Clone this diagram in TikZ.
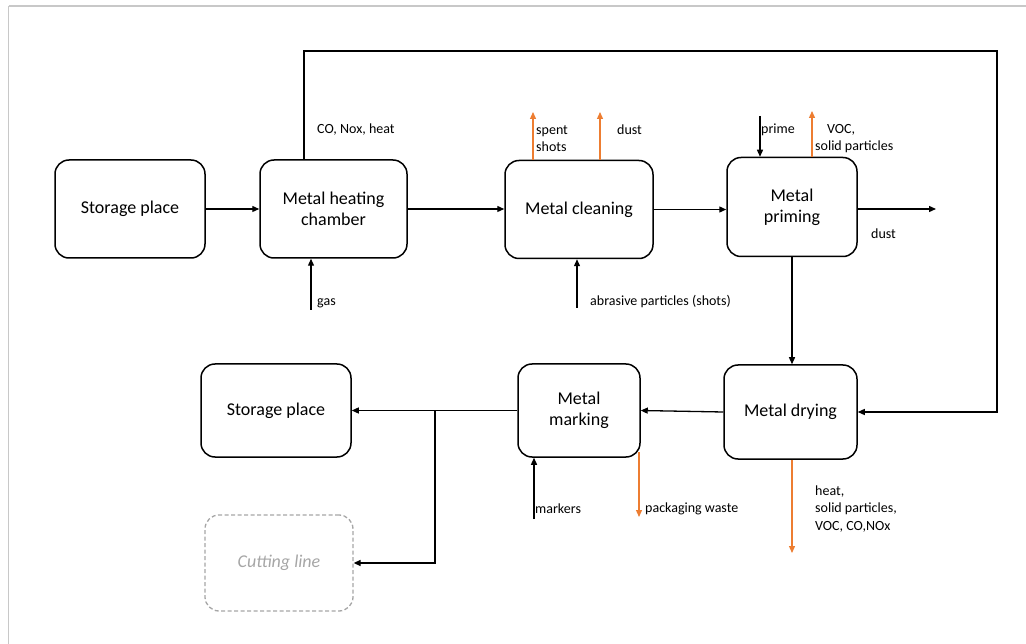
\documentclass[tikz,border=0pt]{standalone}
\usepackage{fontspec}
\setmainfont{Carlito}
\usetikzlibrary{arrows.meta}

\definecolor{outorange}{HTML}{ED7D31}
\definecolor{framegray}{HTML}{C8C8C8}
\definecolor{ghost}{HTML}{A6A6A6}

\tikzset{
  stepbox/.style={draw, line width=1.5pt, rounded corners=14pt, align=center,
    font=\fontsize{18}{21}\selectfont, inner sep=2pt},
  ghostbox/.style={draw=ghost, dash pattern=on 4pt off 2.5pt, line width=1.3pt, rounded corners=14pt,
    text=ghost, font=\fontsize{18}{21}\selectfont\itshape},
  flow/.style={line width=1.3pt, -{Triangle[length=7pt,width=6pt]}},
  waste/.style={flow, draw=outorange, fill=outorange},
  lbl/.style={font=\fontsize{14}{17.5}\selectfont, inner sep=1pt, align=left}
}

\begin{document}
\begin{tikzpicture}[x=1pt, y=-1pt]
\useasboundingbox (0,0) rectangle (1026,644);

% page frame
\draw[framegray, line width=1.5pt] (8.5,6) -- (1026,6);
\draw[framegray, line width=1.5pt] (8.5,6) -- (8.5,644);

% process steps
\node[stepbox, minimum width=150pt, minimum height=98pt] (st1) at (130,209) {Storage place};
\node[stepbox, minimum width=147pt, minimum height=98pt] (heat) at (333.5,209) {Metal heating\\chamber};
\node[stepbox, minimum width=148pt, minimum height=98pt] (clean) at (579,209.5) {Metal cleaning};
\node[stepbox, minimum width=130pt, minimum height=99pt] (prime) at (792,207) {Metal\\priming};
\node[stepbox, minimum width=133pt, minimum height=94pt] (dry) at (790.5,412) {Metal drying};
\node[stepbox, minimum width=122pt, minimum height=93pt] (mark) at (579,410.5) {Metal\\marking};
\node[stepbox, minimum width=150pt, minimum height=93pt] (st2) at (276,410.5) {Storage place};
\node[ghostbox, minimum width=148pt, minimum height=96pt] (cut) at (279,563) {Cutting line};

% free ends and bends
\coordinate (loopA) at (304,51);
\coordinate (loopB) at (997,51);
\coordinate (primeOut) at (936,209);
\coordinate (branch) at (435,410.5);
\coordinate (gasIn) at (311,310);
\coordinate (shotIn) at (577,308);
\coordinate (spentOut) at (533,112);
\coordinate (dustOut) at (600,112);
\coordinate (primerIn) at (760,116);
\coordinate (vocOut) at (812,111);
\coordinate (markIn) at (534,519);
\coordinate (packStart) at (639,452);
\coordinate (packOut) at (639,517);
\coordinate (dryOut) at (792,553);

% main flow
\draw[flow] (st1.east) -- (st1.east -| heat.west);
\draw[flow] (heat.east) -- (heat.east -| clean.west);
\draw[flow] (clean.east) -- (clean.east -| prime.west);
\draw[flow] (prime.east |- primeOut) -- (primeOut);
\draw[flow] (prime.south) -- (dry.north -| prime.south);
\draw[flow] (dry.west) -- (mark.east);
\draw[flow] (mark.west) -- (st2.east);
\draw[flow] (branch) |- (cut.east);
\draw[flow] (heat.north -| loopA) -- (loopA) -- (loopB) |- (dry.east);

% inputs
\draw[flow] (gasIn) -- (gasIn |- heat.south);
\draw[flow] (shotIn) -- (shotIn |- clean.south);
\draw[flow] (primerIn) -- (primerIn |- prime.north);
\draw[flow] (markIn) -- (markIn |- mark.south);

% emissions and waste
\draw[waste] (clean.north -| spentOut) -- (spentOut);
\draw[waste] (clean.north -| dustOut) -- (dustOut);
\draw[waste] (prime.north -| vocOut) -- (vocOut);
\draw[waste] (packStart) -- (packOut);
\draw[waste] (dry.south -| dryOut) -- (dryOut);

% labels
\node[lbl, anchor=west] (lCO) at (316,130) {CO, Nox, heat};
\node[lbl, anchor=west] (lSpent) at (535,138.5) {spent\\shots};
\node[lbl, anchor=west] (lDust1) at (616,130) {dust};
\node[lbl, anchor=west] (lPrime) at (760,130) {prime};
\node[lbl, anchor=west] (lVoc) at (814,138.5) {\hspace*{12pt}VOC,\\solid particles};
\node[lbl, anchor=west] (lDust2) at (870,234) {dust};
\node[lbl, anchor=west] (lGas) at (316,303) {gas};
\node[lbl, anchor=west] (lShot) at (589,302) {abrasive particles (shots)};
\node[lbl, anchor=west] (lMark) at (534,509) {markers};
\node[lbl, anchor=west] (lPack) at (644,509) {packaging waste};
\node[lbl, anchor=west] (lDry) at (814,509) {heat,\\solid particles,\\VOC, CO,NOx};
\end{tikzpicture}
\end{document}
